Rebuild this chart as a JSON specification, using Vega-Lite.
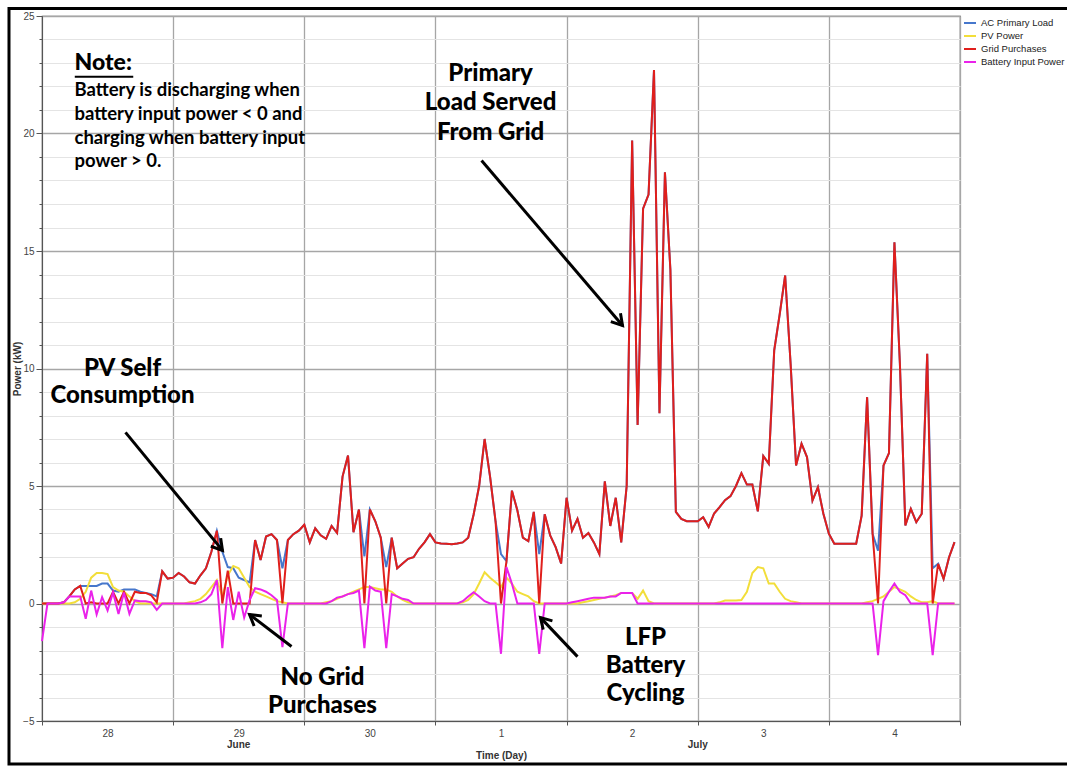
{
  "$schema": "https://vega.github.io/schema/vega-lite/v6.json",
  "width": 918,
  "height": 705,
  "autosize": {"type": "none"},
  "padding": {"left": 42, "top": 16, "right": 107, "bottom": 45},
  "background": "white",
  "config": {
    "view": {"stroke": "#555", "strokeWidth": 1.2},
    "axis": {"labelFont": "Liberation Sans", "labelFontSize": 10, "labelColor": "#444", "titleFont": "Liberation Sans", "titleFontSize": 10, "titleFontWeight": "bold", "titleColor": "#333", "domainColor": "#555", "tickColor": "#555"},
    "line": {"strokeWidth": 2}
  },
  "datasets": {
    "power": [
      {"t":0,"load":0,"pv":0,"grid":0,"batt":-1.6},
      {"t":1,"load":0,"pv":0,"grid":0,"batt":0},
      {"t":2,"load":0,"pv":0,"grid":0,"batt":0},
      {"t":3,"load":0,"pv":0,"grid":0,"batt":0},
      {"t":4,"load":0.05,"pv":0,"grid":0.05,"batt":0.05},
      {"t":5,"load":0.3,"pv":0,"grid":0.3,"batt":0.3},
      {"t":6,"load":0.6,"pv":0.05,"grid":0.6,"batt":0.3},
      {"t":7,"load":0.75,"pv":0.2,"grid":0.75,"batt":0.3},
      {"t":8,"load":0.75,"pv":0.5,"grid":0,"batt":-0.65},
      {"t":9,"load":0.75,"pv":1.1,"grid":0.05,"batt":0.55},
      {"t":10,"load":0.75,"pv":1.3,"grid":0,"batt":-0.47},
      {"t":11,"load":0.85,"pv":1.3,"grid":0,"batt":0.27},
      {"t":12,"load":0.85,"pv":1.25,"grid":0,"batt":-0.3},
      {"t":13,"load":0.55,"pv":0.7,"grid":0.5,"batt":0.47},
      {"t":14,"load":0.5,"pv":0.55,"grid":0,"batt":-0.45},
      {"t":15,"load":0.6,"pv":0.5,"grid":0.5,"batt":0.47},
      {"t":16,"load":0.6,"pv":0.3,"grid":0,"batt":-0.44},
      {"t":17,"load":0.6,"pv":0.1,"grid":0.5,"batt":0.13},
      {"t":18,"load":0.5,"pv":0,"grid":0.45,"batt":0.1},
      {"t":19,"load":0.45,"pv":0,"grid":0.45,"batt":0.1},
      {"t":20,"load":0.4,"pv":0,"grid":0.35,"batt":0.05},
      {"t":21,"load":0.3,"pv":0,"grid":0.05,"batt":-0.27},
      {"t":22,"load":1.37,"pv":0,"grid":1.37,"batt":0},
      {"t":23,"load":1.06,"pv":0,"grid":1.06,"batt":0},
      {"t":24,"load":1.1,"pv":0,"grid":1.1,"batt":0},
      {"t":25,"load":1.3,"pv":0,"grid":1.3,"batt":0},
      {"t":26,"load":1.15,"pv":0,"grid":1.15,"batt":0},
      {"t":27,"load":0.9,"pv":0.05,"grid":0.9,"batt":0},
      {"t":28,"load":0.85,"pv":0.1,"grid":0.85,"batt":0},
      {"t":29,"load":1.2,"pv":0.2,"grid":1.2,"batt":0.05},
      {"t":30,"load":1.5,"pv":0.4,"grid":1.5,"batt":0.15},
      {"t":31,"load":2.2,"pv":0.7,"grid":2.2,"batt":0.4},
      {"t":32,"load":3.1,"pv":1.0,"grid":3.1,"batt":1.0},
      {"t":33,"load":2.2,"pv":0.3,"grid":0,"batt":-1.9},
      {"t":34,"load":1.55,"pv":1.2,"grid":1.4,"batt":0.7},
      {"t":35,"load":1.5,"pv":1.6,"grid":0,"batt":-0.7},
      {"t":36,"load":1.1,"pv":1.5,"grid":0,"batt":0.5},
      {"t":37,"load":1.0,"pv":1.1,"grid":0,"batt":-0.6},
      {"t":38,"load":0.9,"pv":0.7,"grid":0,"batt":0.15},
      {"t":39,"load":2.7,"pv":0.5,"grid":2.7,"batt":0.65},
      {"t":40,"load":1.85,"pv":0.4,"grid":1.85,"batt":0.6},
      {"t":41,"load":2.85,"pv":0.3,"grid":2.85,"batt":0.5},
      {"t":42,"load":2.95,"pv":0.2,"grid":2.95,"batt":0.35},
      {"t":43,"load":2.7,"pv":0.1,"grid":2.7,"batt":0.15},
      {"t":44,"load":1.5,"pv":0.05,"grid":0,"batt":-1.86},
      {"t":45,"load":2.7,"pv":0,"grid":2.7,"batt":0},
      {"t":46,"load":2.95,"pv":0,"grid":2.95,"batt":0},
      {"t":47,"load":3.1,"pv":0,"grid":3.1,"batt":0},
      {"t":48,"load":3.35,"pv":0,"grid":3.35,"batt":0},
      {"t":49,"load":2.6,"pv":0,"grid":2.6,"batt":0},
      {"t":50,"load":3.2,"pv":0,"grid":3.2,"batt":0},
      {"t":51,"load":2.9,"pv":0,"grid":2.9,"batt":0},
      {"t":52,"load":2.75,"pv":0.05,"grid":2.75,"batt":0},
      {"t":53,"load":3.3,"pv":0.1,"grid":3.3,"batt":0.1},
      {"t":54,"load":3.0,"pv":0.2,"grid":3.0,"batt":0.25},
      {"t":55,"load":5.4,"pv":0.3,"grid":5.4,"batt":0.3},
      {"t":56,"load":6.3,"pv":0.4,"grid":6.3,"batt":0.4},
      {"t":57,"load":3.03,"pv":0.5,"grid":3.03,"batt":0.45},
      {"t":58,"load":4.0,"pv":0.6,"grid":4.0,"batt":0.55},
      {"t":59,"load":2.0,"pv":0.7,"grid":0,"batt":-1.9},
      {"t":60,"load":4.0,"pv":0.7,"grid":4.0,"batt":0.72},
      {"t":61,"load":3.5,"pv":0.65,"grid":3.5,"batt":0.55},
      {"t":62,"load":2.8,"pv":0.6,"grid":2.8,"batt":0.5},
      {"t":63,"load":1.55,"pv":0.6,"grid":0,"batt":-1.9},
      {"t":64,"load":2.8,"pv":0.5,"grid":2.8,"batt":0.4},
      {"t":65,"load":1.5,"pv":0.3,"grid":1.5,"batt":0.3},
      {"t":66,"load":1.7,"pv":0.15,"grid":1.7,"batt":0.2},
      {"t":67,"load":1.9,"pv":0.05,"grid":1.9,"batt":0.15},
      {"t":68,"load":1.97,"pv":0,"grid":1.97,"batt":0},
      {"t":69,"load":2.33,"pv":0,"grid":2.33,"batt":0},
      {"t":70,"load":2.6,"pv":0,"grid":2.6,"batt":0},
      {"t":71,"load":2.95,"pv":0,"grid":2.95,"batt":0},
      {"t":72,"load":2.6,"pv":0,"grid":2.6,"batt":0},
      {"t":73,"load":2.55,"pv":0,"grid":2.55,"batt":0},
      {"t":74,"load":2.54,"pv":0,"grid":2.54,"batt":0},
      {"t":75,"load":2.52,"pv":0,"grid":2.52,"batt":0},
      {"t":76,"load":2.55,"pv":0,"grid":2.55,"batt":0},
      {"t":77,"load":2.6,"pv":0.05,"grid":2.6,"batt":0.1},
      {"t":78,"load":2.8,"pv":0.15,"grid":2.8,"batt":0.3},
      {"t":79,"load":3.8,"pv":0.4,"grid":3.8,"batt":0.48},
      {"t":80,"load":5.0,"pv":0.85,"grid":5.0,"batt":0.3},
      {"t":81,"load":7.0,"pv":1.33,"grid":7.0,"batt":0.1},
      {"t":82,"load":5.4,"pv":1.1,"grid":5.4,"batt":0},
      {"t":83,"load":3.5,"pv":0.9,"grid":3.5,"batt":0},
      {"t":84,"load":2.1,"pv":0.7,"grid":0,"batt":-2.14},
      {"t":85,"load":1.8,"pv":1.1,"grid":1.8,"batt":1.55},
      {"t":86,"load":4.8,"pv":0.84,"grid":4.8,"batt":0.84},
      {"t":87,"load":3.96,"pv":0.5,"grid":3.96,"batt":0},
      {"t":88,"load":2.8,"pv":0.4,"grid":2.8,"batt":0},
      {"t":89,"load":2.65,"pv":0.3,"grid":2.65,"batt":0},
      {"t":90,"load":3.9,"pv":0.1,"grid":3.9,"batt":0},
      {"t":91,"load":2.1,"pv":0,"grid":0,"batt":-2.14},
      {"t":92,"load":3.8,"pv":0,"grid":3.8,"batt":0},
      {"t":93,"load":2.9,"pv":0,"grid":2.9,"batt":0},
      {"t":94,"load":2.4,"pv":0,"grid":2.4,"batt":0},
      {"t":95,"load":1.7,"pv":0,"grid":1.7,"batt":0},
      {"t":96,"load":4.5,"pv":0,"grid":4.5,"batt":0},
      {"t":97,"load":3.1,"pv":0,"grid":3.1,"batt":0.05},
      {"t":98,"load":3.6,"pv":0,"grid":3.6,"batt":0.1},
      {"t":99,"load":2.8,"pv":0.05,"grid":2.8,"batt":0.15},
      {"t":100,"load":3.0,"pv":0.1,"grid":3.0,"batt":0.2},
      {"t":101,"load":2.6,"pv":0.15,"grid":2.6,"batt":0.25},
      {"t":102,"load":2.1,"pv":0.2,"grid":2.1,"batt":0.25},
      {"t":103,"load":5.2,"pv":0.25,"grid":5.2,"batt":0.25},
      {"t":104,"load":3.3,"pv":0.3,"grid":3.3,"batt":0.3},
      {"t":105,"load":4.5,"pv":0.35,"grid":4.5,"batt":0.3},
      {"t":106,"load":2.6,"pv":0.45,"grid":2.6,"batt":0.45},
      {"t":107,"load":5.0,"pv":0.45,"grid":5.0,"batt":0.45},
      {"t":108,"load":19.7,"pv":0.45,"grid":19.7,"batt":0.45},
      {"t":109,"load":7.6,"pv":0.2,"grid":7.6,"batt":0},
      {"t":110,"load":16.8,"pv":0.55,"grid":16.8,"batt":0},
      {"t":111,"load":17.4,"pv":0.1,"grid":17.4,"batt":0},
      {"t":112,"load":22.7,"pv":0,"grid":22.7,"batt":0},
      {"t":113,"load":8.1,"pv":0,"grid":8.1,"batt":0},
      {"t":114,"load":18.35,"pv":0,"grid":18.35,"batt":0},
      {"t":115,"load":14.2,"pv":0,"grid":14.2,"batt":0},
      {"t":116,"load":3.9,"pv":0,"grid":3.9,"batt":0},
      {"t":117,"load":3.6,"pv":0,"grid":3.6,"batt":0},
      {"t":118,"load":3.5,"pv":0,"grid":3.5,"batt":0},
      {"t":119,"load":3.5,"pv":0,"grid":3.5,"batt":0},
      {"t":120,"load":3.5,"pv":0,"grid":3.5,"batt":0},
      {"t":121,"load":3.67,"pv":0,"grid":3.67,"batt":0},
      {"t":122,"load":3.26,"pv":0,"grid":3.26,"batt":0},
      {"t":123,"load":3.83,"pv":0,"grid":3.83,"batt":0},
      {"t":124,"load":4.1,"pv":0.05,"grid":4.1,"batt":0},
      {"t":125,"load":4.4,"pv":0.13,"grid":4.4,"batt":0},
      {"t":126,"load":4.57,"pv":0.13,"grid":4.57,"batt":0},
      {"t":127,"load":5.0,"pv":0.13,"grid":5.0,"batt":0},
      {"t":128,"load":5.55,"pv":0.15,"grid":5.55,"batt":0},
      {"t":129,"load":5.06,"pv":0.5,"grid":5.06,"batt":0},
      {"t":130,"load":5.06,"pv":1.3,"grid":5.06,"batt":0},
      {"t":131,"load":3.92,"pv":1.55,"grid":3.92,"batt":0},
      {"t":132,"load":6.28,"pv":1.5,"grid":6.28,"batt":0},
      {"t":133,"load":5.95,"pv":0.85,"grid":5.95,"batt":0},
      {"t":134,"load":10.77,"pv":0.85,"grid":10.77,"batt":0},
      {"t":135,"load":12.3,"pv":0.5,"grid":12.3,"batt":0},
      {"t":136,"load":13.96,"pv":0.2,"grid":13.96,"batt":0},
      {"t":137,"load":10.2,"pv":0.1,"grid":10.2,"batt":0},
      {"t":138,"load":5.87,"pv":0.05,"grid":5.87,"batt":0},
      {"t":139,"load":6.8,"pv":0,"grid":6.8,"batt":0},
      {"t":140,"load":6.23,"pv":0,"grid":6.23,"batt":0},
      {"t":141,"load":4.38,"pv":0,"grid":4.38,"batt":0},
      {"t":142,"load":4.95,"pv":0,"grid":4.95,"batt":0},
      {"t":143,"load":3.82,"pv":0,"grid":3.82,"batt":0},
      {"t":144,"load":2.97,"pv":0,"grid":2.97,"batt":0},
      {"t":145,"load":2.54,"pv":0,"grid":2.54,"batt":0},
      {"t":146,"load":2.54,"pv":0,"grid":2.54,"batt":0},
      {"t":147,"load":2.54,"pv":0,"grid":2.54,"batt":0},
      {"t":148,"load":2.54,"pv":0,"grid":2.54,"batt":0},
      {"t":149,"load":2.54,"pv":0,"grid":2.54,"batt":0},
      {"t":150,"load":3.74,"pv":0,"grid":3.74,"batt":0},
      {"t":151,"load":8.78,"pv":0.05,"grid":8.78,"batt":0},
      {"t":152,"load":2.97,"pv":0.1,"grid":2.97,"batt":0},
      {"t":153,"load":2.25,"pv":0.2,"grid":0,"batt":-2.2},
      {"t":154,"load":5.87,"pv":0.3,"grid":5.87,"batt":0.1},
      {"t":155,"load":6.4,"pv":0.5,"grid":6.4,"batt":0.5},
      {"t":156,"load":15.37,"pv":0.7,"grid":15.37,"batt":0.85},
      {"t":157,"load":10.2,"pv":0.6,"grid":10.2,"batt":0.5},
      {"t":158,"load":3.32,"pv":0.5,"grid":3.32,"batt":0.35},
      {"t":159,"load":4.03,"pv":0.3,"grid":4.03,"batt":0},
      {"t":160,"load":3.46,"pv":0.15,"grid":3.46,"batt":0},
      {"t":161,"load":3.82,"pv":0.05,"grid":3.82,"batt":0},
      {"t":162,"load":10.63,"pv":0.05,"grid":10.63,"batt":0},
      {"t":163,"load":1.5,"pv":0.1,"grid":0,"batt":-2.2},
      {"t":164,"load":1.69,"pv":0,"grid":1.69,"batt":0},
      {"t":165,"load":1.05,"pv":0,"grid":1.05,"batt":0},
      {"t":166,"load":1.97,"pv":0,"grid":1.97,"batt":0},
      {"t":167,"load":2.61,"pv":0,"grid":2.61,"batt":0}
    ],
    "notes": [
      {"t":5.95,"v":22.98,"text":"Note:","kind":"head"},
      {"t":5.95,"v":21.87,"text":"Battery is discharging when","kind":"note"},
      {"t":5.95,"v":20.85,"text":"battery input power < 0 and","kind":"note"},
      {"t":5.95,"v":19.79,"text":"charging when battery input","kind":"note"},
      {"t":5.95,"v":18.81,"text":"power > 0.","kind":"note"},
      {"t":82.1,"v":22.55,"text":"Primary","kind":"big"},
      {"t":82.1,"v":21.28,"text":"Load Served","kind":"big"},
      {"t":82.1,"v":20.04,"text":"From Grid","kind":"big"},
      {"t":14.73,"v":10.0,"text":"PV Self","kind":"big"},
      {"t":14.73,"v":8.81,"text":"Consumption","kind":"big"},
      {"t":51.33,"v":-3.15,"text":"No Grid","kind":"big"},
      {"t":51.33,"v":-4.38,"text":"Purchases","kind":"big"},
      {"t":110.45,"v":-1.45,"text":"LFP","kind":"big"},
      {"t":110.45,"v":-2.64,"text":"Battery","kind":"big"},
      {"t":110.45,"v":-3.87,"text":"Cycling","kind":"big"},
      {"t":36,"v":-6.04,"text":"June","kind":"month"},
      {"t":120,"v":-6.04,"text":"July","kind":"month"}
    ],
    "arrows": [
      {"id":"a1","t":80.44,"v":18.85,"t2":106.24,"v2":11.83},
      {"id":"a2","t":15.28,"v":7.28,"t2":33.03,"v2":2.26},
      {"id":"a3","t":45.66,"v":-1.83,"t2":37.98,"v2":-0.47},
      {"id":"a4","t":98.0,"v":-2.26,"t2":91.23,"v2":-0.6}
    ],
    "uline": [{"t":6.0,"v":22.42,"t2":16.7,"v2":22.42}],
    "frame": [{"t":-6.04,"v":25.32,"t2":192,"v2":-6.83}]
  },
  "encoding": {
    "x": {"field": "t", "type": "quantitative",
      "scale": {"domain": [0, 168], "nice": false, "zero": false},
      "axis": {"values": [0,24,48,72,96,120,144,168],
        "labelExpr": "['28','29','30','1','2','3','4',''][round(datum.value/24)]",
        "labelOffset": 65.57, "labelFlush": false, "labelOverlap": false,
        "tickSize": 4, "labelPadding": 3, "title": "Time (Day)", "titlePadding": 12,
        "gridColor": "#a6a6a6", "gridWidth": 1.3}},
    "y": {"field": "v", "type": "quantitative",
      "scale": {"domain": [-5, 25], "nice": false, "zero": false},
      "axis": {"values": [-5,-4,-3,-2,-1,0,1,2,3,4,5,6,7,8,9,10,11,12,13,14,15,16,17,18,19,20,21,22,23,24,25],
        "labelExpr": "datum.value % 5 === 0 ? datum.label : ''",
        "labelFlush": false, "labelOverlap": false, "labelPadding": 2,
        "title": "Power (kW)", "titlePadding": 0,
        "tickSize": {"condition": {"test": "datum.value % 5 === 0", "value": 6}, "value": 3},
        "gridColor": {"condition": {"test": "datum.value % 5 === 0", "value": "#a6a6a6"}, "value": "#e4e4e4"},
        "gridWidth": {"condition": {"test": "datum.value % 5 === 0", "value": 1.3}, "value": 1}}}
  },
  "layer": [
    {
      "data": {"name": "frame"},
      "mark": {"type": "rect", "fill": "white", "fillOpacity": 0, "stroke": "black", "strokeWidth": 3},
      "encoding": {"x2": {"field": "t2"}, "y2": {"field": "v2"}}
    },
    {
      "data": {"name": "power"},
      "transform": [{"fold": ["load"], "as": ["s", "v"]}],
      "mark": {"type": "line", "strokeWidth": 2},
      "encoding": {
        "color": {"datum": "AC Primary Load",
          "scale": {"domain": ["AC Primary Load", "PV Power", "Grid Purchases", "Battery Input Power"],
                    "range": ["#4677cc", "#f2de3a", "#e01f1c", "#ea22ea"]},
          "legend": {"orient": "right", "title": null, "offset": 3, "padding": 0,
            "symbolType": "stroke", "symbolStrokeWidth": 2.5, "symbolSize": 144,
            "labelFont": "Liberation Sans", "labelFontSize": 9.5, "labelColor": "#222",
            "rowPadding": 1, "labelOffset": 4}}
      }
    },
    {
      "data": {"name": "power"},
      "transform": [{"fold": ["pv"], "as": ["s", "v"]}],
      "mark": {"type": "line", "strokeWidth": 2},
      "encoding": {"color": {"datum": "PV Power"}}
    },
    {
      "data": {"name": "power"},
      "transform": [{"fold": ["grid"], "as": ["s", "v"]}],
      "mark": {"type": "line", "strokeWidth": 2},
      "encoding": {"color": {"datum": "Grid Purchases"}}
    },
    {
      "data": {"name": "power"},
      "transform": [{"fold": ["batt"], "as": ["s", "v"]}],
      "mark": {"type": "line", "strokeWidth": 2},
      "encoding": {"color": {"datum": "Battery Input Power"}}
    },
    {
      "data": {"name": "notes"},
      "transform": [{"filter": "datum.kind === 'head'"}],
      "mark": {"type": "text", "align": "left", "baseline": "middle", "font": "Lato", "fontWeight": 900, "fontSize": 23, "color": "black"},
      "encoding": {"text": {"field": "text"}}
    },
    {
      "data": {"name": "notes"},
      "transform": [{"filter": "datum.kind === 'note'"}],
      "mark": {"type": "text", "align": "left", "baseline": "middle", "font": "Lato", "fontWeight": "bold", "fontSize": 18.5, "color": "black"},
      "encoding": {"text": {"field": "text"}}
    },
    {
      "data": {"name": "notes"},
      "transform": [{"filter": "datum.kind === 'big'"}],
      "mark": {"type": "text", "align": "center", "baseline": "middle", "font": "Lato", "fontWeight": 900, "fontSize": 24, "color": "black"},
      "encoding": {"text": {"field": "text"}}
    },
    {
      "data": {"name": "notes"},
      "transform": [{"filter": "datum.kind === 'month'"}],
      "mark": {"type": "text", "align": "center", "baseline": "middle", "font": "Liberation Sans", "fontWeight": "bold", "fontSize": 10, "color": "#333"},
      "encoding": {"text": {"field": "text"}}
    },
    {
      "data": {"name": "uline"},
      "mark": {"type": "rule", "color": "black", "strokeWidth": 2},
      "encoding": {"x2": {"field": "t2"}, "y2": {"field": "v2"}}
    },
    {
      "data": {"name": "arrows"},
      "mark": {"type": "rule", "color": "black", "strokeWidth": 3},
      "encoding": {"x2": {"field": "t2"}, "y2": {"field": "v2"}}
    },
    {
      "data": {"name": "arrows"},
      "transform": [{"filter": "datum.id === 'a1'"}],
      "mark": {"type": "point", "shape": "M-1,-0.6L0,0L-1,0.6", "filled": false, "stroke": "black", "strokeWidth": 3, "size": 450, "opacity": 1, "angle": 49.5},
      "encoding": {"x": {"field": "t2", "type": "quantitative"}, "y": {"field": "v2", "type": "quantitative"}}
    },
    {
      "data": {"name": "arrows"},
      "transform": [{"filter": "datum.id === 'a2'"}],
      "mark": {"type": "point", "shape": "M-1,-0.6L0,0L-1,0.6", "filled": false, "stroke": "black", "strokeWidth": 3, "size": 450, "opacity": 1, "angle": 50.6},
      "encoding": {"x": {"field": "t2", "type": "quantitative"}, "y": {"field": "v2", "type": "quantitative"}}
    },
    {
      "data": {"name": "arrows"},
      "transform": [{"filter": "datum.id === 'a3'"}],
      "mark": {"type": "point", "shape": "M-1,-0.6L0,0L-1,0.6", "filled": false, "stroke": "black", "strokeWidth": 3, "size": 450, "opacity": 1, "angle": 217.3},
      "encoding": {"x": {"field": "t2", "type": "quantitative"}, "y": {"field": "v2", "type": "quantitative"}}
    },
    {
      "data": {"name": "arrows"},
      "transform": [{"filter": "datum.id === 'a4'"}],
      "mark": {"type": "point", "shape": "M-1,-0.6L0,0L-1,0.6", "filled": false, "stroke": "black", "strokeWidth": 3, "size": 450, "opacity": 1, "angle": 226.5},
      "encoding": {"x": {"field": "t2", "type": "quantitative"}, "y": {"field": "v2", "type": "quantitative"}}
    }
  ]
}
